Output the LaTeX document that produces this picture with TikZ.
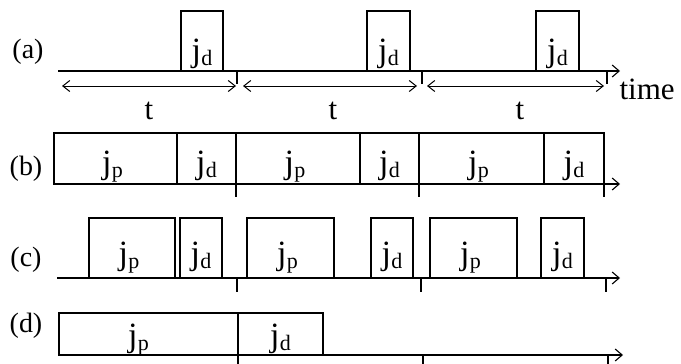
\documentclass[tikz,border=0pt]{standalone}
\usepackage{fontspec}
\setmainfont{Liberation Serif}
\usetikzlibrary{arrows.meta}
\newcommand{\jsub}[1]{j\kern0.01em\raisebox{-4pt}{\fontsize{22}{22}\selectfont #1}}
\begin{document}
\begin{tikzpicture}[x=1pt,y=-1pt, line width=1.1pt,
  box/.style={draw, inner sep=0pt, outer sep=0pt, anchor=north west},
  txt/.style={inner sep=0pt, anchor=base, font=\fontsize{34}{36}\selectfont},
  lab/.style={inner sep=0pt, font=\fontsize{28}{30}\selectfont},
  big/.style={inner sep=0pt, font=\fontsize{31}{33}\selectfont},
  tip/.style={-{Straight Barb[length=7pt,width=12pt]}},
  dbl/.style={{Straight Barb[length=7pt,width=11pt]}-{Straight Barb[length=7pt,width=11pt]}, line width=1pt}]
\useasboundingbox (0,0) rectangle (681,364);

% ---------- row (a)
\node[lab] (la) at (28,52) {(a)};
\coordinate (a0) at (58,71);
\coordinate (aE) at (620,71);
\draw[tip] (a0) -- (aE);
\node[box, minimum width=42, minimum height=60] (a1) at (181,11) {};
\node[box, minimum width=43, minimum height=60] (a2) at (367,11) {};
\node[box, minimum width=43, minimum height=60] (a3) at (536,11) {};
\path (a1.south) ++(0,-10) node[txt] {\jsub{d}};
\path (a2.south) ++(0,-10) node[txt] {\jsub{d}};
\path (a3.south) ++(0,-10) node[txt] {\jsub{d}};
\coordinate (ta1) at (237,71); \coordinate (ta2) at (422,71); \coordinate (ta3) at (607,71);
\draw (ta1) -- ++(0,13);
\draw (ta2) -- ++(0,13);
\draw (ta3) -- ++(0,13);
\coordinate (p1s) at (62,86);  \coordinate (p1e) at (236,86);
\coordinate (p2s) at (243,86); \coordinate (p2e) at (417,86);
\coordinate (p3s) at (427,86); \coordinate (p3e) at (604,86);
\draw[dbl] (p1s) -- (p1e);
\draw[dbl] (p2s) -- (p2e);
\draw[dbl] (p3s) -- (p3e);
\node[big, anchor=base] (t1) at (149,119) {t};
\node[big, anchor=base] (t2) at (333,119) {t};
\node[big, anchor=base] (t3) at (520,119) {t};
\node[big, anchor=base west] (time) at (619,99) {time};

% ---------- row (b)
\node[lab] (lb) at (26,169) {(b)};
\node[box, minimum width=123, minimum height=51] (b1) at (54,133) {};
\node[box, minimum width=59,  minimum height=51] (b2) at (177,133) {};
\node[box, minimum width=124, minimum height=51] (b3) at (236,133) {};
\node[box, minimum width=59,  minimum height=51] (b4) at (360,133) {};
\node[box, minimum width=125, minimum height=51] (b5) at (419,133) {};
\node[box, minimum width=60,  minimum height=51] (b6) at (544,133) {};
\path (b1.south) ++(-3,-11) node[txt] {\jsub{p}};
\path (b2.south) ++(0,-11) node[txt] {\jsub{d}};
\path (b3.south) ++(-3,-11) node[txt] {\jsub{p}};
\path (b4.south) ++(0,-11) node[txt] {\jsub{d}};
\path (b5.south) ++(-3,-11) node[txt] {\jsub{p}};
\path (b6.south) ++(0,-11) node[txt] {\jsub{d}};
\coordinate (bE) at (620,184);
\draw[tip] (b6.south east) -- (bE);
\draw (b3.south west) -- ++(0,13);
\draw (b5.south west) -- ++(0,13);
\draw (b6.south east) -- ++(0,13);

% ---------- row (c)
\node[lab] (lc) at (26,260) {(c)};
\coordinate (c0) at (57,278);
\coordinate (cE) at (620,278);
\draw[tip] (c0) -- (cE);
\node[box, minimum width=86, minimum height=60] (c1) at (89,218) {};
\node[box, minimum width=42, minimum height=60] (c2) at (180,218) {};
\node[box, minimum width=87, minimum height=60] (c3) at (247,218) {};
\node[box, minimum width=42, minimum height=60] (c4) at (371,218) {};
\node[box, minimum width=87, minimum height=60] (c5) at (430,218) {};
\node[box, minimum width=43, minimum height=60] (c6) at (541,218) {};
\path (c1.south) ++(-3,-14) node[txt] {\jsub{p}};
\path (c2.south) ++(0,-14) node[txt] {\jsub{d}};
\path (c3.south) ++(-3,-14) node[txt] {\jsub{p}};
\path (c4.south) ++(0,-14) node[txt] {\jsub{d}};
\path (c5.south) ++(-3,-14) node[txt] {\jsub{p}};
\path (c6.south) ++(0,-14) node[txt] {\jsub{d}};
\coordinate (tc1) at (237,278); \coordinate (tc2) at (421,278); \coordinate (tc3) at (606,278);
\draw (tc1) -- ++(0,14);
\draw (tc2) -- ++(0,14);
\draw (tc3) -- ++(0,14);

% ---------- row (d)
\node[lab] (ld) at (26,326) {(d)};
\node[box, minimum width=179, minimum height=42] (d1) at (59,313) {};
\node[box, minimum width=85,  minimum height=42] (d2) at (238,313) {};
\path (d1.south) ++(-10,-9) node[txt] {\jsub{p}};
\path (d2.south) ++(0,-9) node[txt] {\jsub{d}};
\coordinate (dE) at (623,355);
\draw[tip] (d1.south west) -- (dE);
\coordinate (td2) at (423,355); \coordinate (td3) at (608,355);
\draw (d2.south west) -- ++(0,9);
\draw (td2) -- ++(0,9);
\draw (td3) -- ++(0,9);
\end{tikzpicture}
\end{document}
